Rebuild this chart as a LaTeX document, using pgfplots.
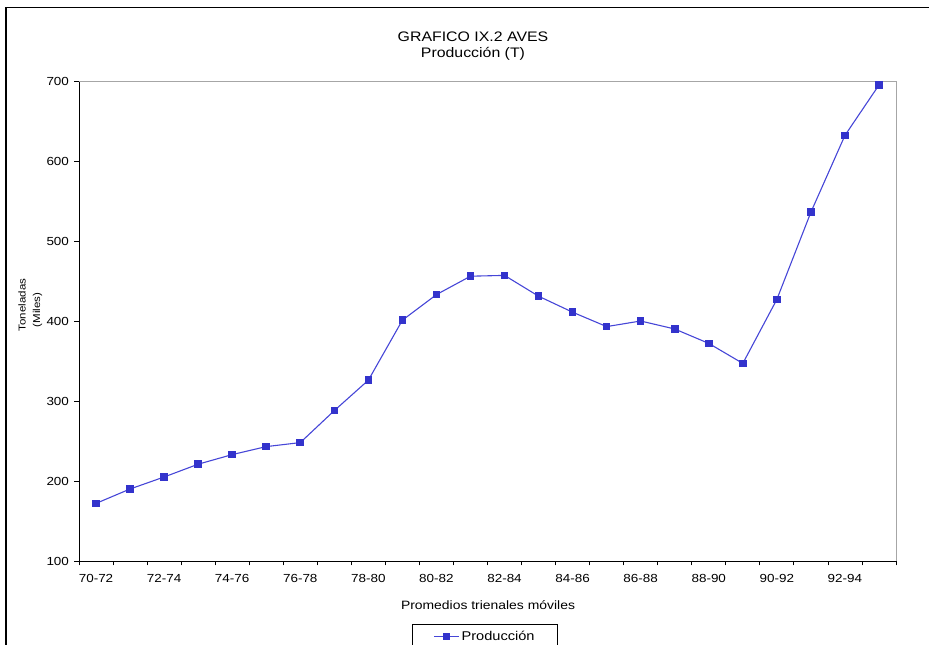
\documentclass[border=0pt]{standalone}
\usepackage{fontspec}
\setmainfont{Liberation Sans}[FakeStretch=1.15]
\usepackage{pgfplots}
\pgfplotsset{compat=1.18}
\definecolor{serie}{RGB}{51,51,204}
\definecolor{serieline}{RGB}{70,70,215}
\pgfplotstableread{
x y
0 172
1 190
2 205
3 221
4 233
5 243
6 248
7 288
8 326
9 401
10 433
11 456
12 457
13 431
14 411
15 393
16 400
17 390
18 372
19 347
20 427
21 536
22 632
23 695
}\datatable
\begin{document}
\begin{tikzpicture}
\useasboundingbox (0,0) rectangle (929pt,645pt);
\draw[line width=1.8pt] (6pt,0pt) -- (6pt,637.5pt) -- (929pt,637.5pt);
\node[font=\fontsize{13.8}{16}\selectfont, anchor=base] at (473pt,603.7pt) {GRAFICO IX.2 AVES};
\node[font=\fontsize{13.8}{16}\selectfont, anchor=base] at (473pt,587.7pt) {Producción (T)};
\node[font=\fontsize{12.1}{14}\selectfont, anchor=base] at (488pt,35pt) {Promedios trienales móviles};
\node[rotate=90, anchor=base, font=\fontsize{10}{12}\selectfont] at (25.5pt,340pt) {Toneladas};
\node[rotate=90, anchor=base, font=\fontsize{10}{12}\selectfont] at (40pt,335pt) {(Miles)};
\begin{axis}[
  at={(79pt,84pt)}, anchor=south west,
  scale only axis, width=817pt, height=480pt,
  xmin=-0.5, xmax=23.5, ymin=100, ymax=700,
  axis x line*=bottom, axis y line*=left,
  axis line style={-, black, line width=0.8pt},
  clip=false,
  ytick={100,200,...,700},
  xtick={-0.5,0.5,...,23.5},
  xticklabels={},
  extra x ticks={0,2,...,22},
  extra x tick labels={70-72,72-74,74-76,76-78,78-80,80-82,82-84,84-86,86-88,88-90,90-92,92-94},
  extra x tick style={major tick length=0pt, xticklabel style={yshift=-10pt}},
  tick align=outside,
  major tick length=4.5pt,
  tick style={black, line width=0.8pt},
  /pgf/number format/assume math mode=true,
  ticklabel style={font=\fontsize{11.7}{14}\selectfont},
  yticklabel style={xshift=-2pt},
  legend style={at={(axis description cs:0.497,-0.131)}, anchor=north, draw=black,
    font=\fontsize{12.7}{15}\selectfont, inner xsep=21pt, inner ysep=5pt},
  legend image code/.code={\draw[mark repeat=2,mark phase=2] plot coordinates {(0pt,0pt) (12.5pt,0pt) (25pt,0pt)};},
]
\draw[gray!70, line width=0.8pt] (rel axis cs:0,1) -- (rel axis cs:1,1) -- (rel axis cs:1,0);
\addplot[serieline, line width=1.1pt, mark=square*, mark size=3.3pt, mark options={fill=serie, draw=serie, line width=0pt}] table[x=x,y=y] {\datatable};
\addlegendentry{Producción}
\end{axis}
\end{tikzpicture}
\end{document}
